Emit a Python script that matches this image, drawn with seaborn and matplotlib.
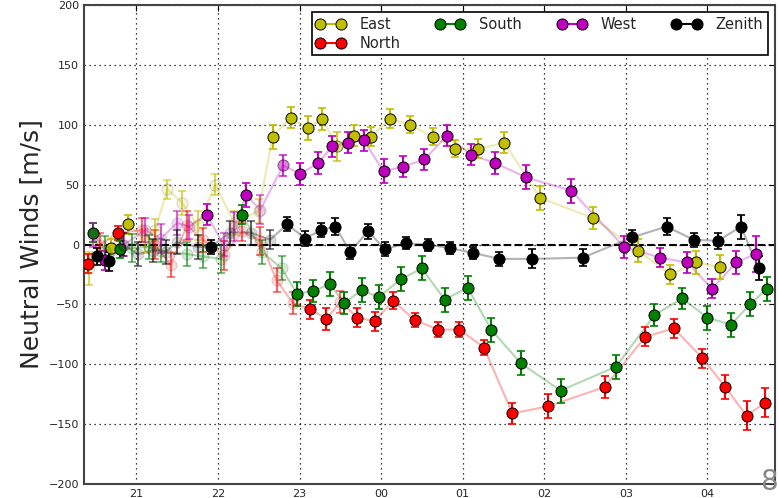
import numpy as np
import pandas as pd
import matplotlib
matplotlib.use("Agg")
import matplotlib.pyplot as plt
import seaborn as sns
from matplotlib.lines import Line2D

# Tid i timer (24 = 00, 25 = 01 osv.), vind i m/s, feil og kvalitet (2 = god, 1 = middels, 0 = daarlig)
east_t = [20.42, 20.69, 20.90, 21.10, 21.23, 21.38, 21.56, 21.75, 21.97, 22.20, 22.50, 22.67, 22.89, 23.10, 23.28,
          23.46, 23.67, 23.88, 24.11, 24.35, 24.64, 24.91, 25.19, 25.51, 25.95, 26.60, 27.15, 27.54, 27.86, 28.16]
east_v = [-20, -3, 17, 3, 12, 46, 35, 16, 50, 18, 28, 90, 106, 97, 105,
          82, 91, 90, 105, 100, 90, 80, 80, 85, 39, 22, -5, -25, -15, -19]
east_err = [14, 8, 8, 10, 9, 8, 10, 12, 9, 10, 10, 10, 9, 10, 9,
            12, 9, 8, 8, 7, 7, 7, 8, 9, 10, 9, 10, 8, 10, 10]
east_q = [0, 2, 2, 0, 0, 0, 0, 0, 0, 0, 0, 2, 2, 2, 2,
          1, 2, 2, 2, 2, 2, 2, 2, 2, 2, 2, 2, 2, 2, 2]

north_t = [20.41, 20.56, 20.77, 21.07, 21.23, 21.42, 21.62, 21.82, 22.07, 22.30, 22.52, 22.72, 22.92, 23.13, 23.33, 23.50,
           23.71, 23.92, 24.15, 24.41, 24.70, 24.96, 25.26, 25.61, 26.05, 26.74, 27.24, 27.59, 27.94, 28.22, 28.48, 28.71]
north_v = [-16, 0, 9.5, 12, 0, -17, 16, 4, -9, 11, 3, -30, -49, -54, -62, -48,
           -61, -64, -47, -63, -71, -71, -86, -141, -135, -119, -77, -70, -95, -119, -143, -132]
north_err = [8, 10, 6, 10, 12, 10, 12, 10, 12, 8, 12, 10, 9, 8, 9, 9,
             8, 8, 7, 6, 6, 6, 6, 9, 10, 9, 8, 8, 8, 10, 12, 12]
north_q = [2, 0, 2, 0, 0, 0, 0, 0, 0, 0, 0, 0, 0, 2, 2, 0,
           2, 2, 2, 2, 2, 2, 2, 2, 2, 2, 2, 2, 2, 2, 2, 2]

south_t = [20.47, 20.62, 20.80, 20.95, 21.15, 21.30, 21.62, 21.82, 22.04, 22.30, 22.54, 22.78, 22.97, 23.17, 23.37, 23.55,
           23.76, 23.97, 24.24, 24.50, 24.78, 25.06, 25.35, 25.71, 26.20, 26.88, 27.35, 27.69, 28.00, 28.29, 28.52, 28.73]
south_v = [10, -5, -4, -3, -2, -5, -8, -10, -12, 25, -6, -20, -41, -39, -33, -49,
           -38, -44, -29, -20, -46, -36, -71, -99, -122, -102, -59, -45, -61, -67, -50, -37]
south_err = [8, 12, 7, 12, 10, 10, 10, 10, 12, 8, 10, 10, 10, 9, 10, 9,
             10, 10, 10, 10, 10, 10, 10, 10, 10, 10, 9, 9, 10, 10, 10, 10]
south_q = [2, 0, 2, 0, 0, 0, 0, 0, 0, 2, 0, 0, 2, 2, 2, 2,
           2, 2, 2, 2, 2, 2, 2, 2, 2, 2, 2, 2, 2, 2, 2, 2]

west_t = [20.47, 20.61, 20.85, 21.11, 21.30, 21.50, 21.65, 21.86, 22.07, 22.20, 22.35, 22.52, 22.80, 23.01, 23.23, 23.40,
          23.60, 23.79, 24.03, 24.27, 24.53, 24.81, 25.10, 25.40, 25.78, 26.33, 26.98, 27.42, 27.75, 28.06, 28.35, 28.59]
west_v = [8, -13, 0, 12, 5, 18, 15, 25, 0, 15, 41, 29, 66, 59, 68, 82,
          85, 87, 61, 65, 71, 91, 75, 68, 56, 45, -2, -11, -15, -37, -15, -8]
west_err = [10, 8, 10, 10, 12, 10, 10, 9, 10, 12, 10, 12, 9, 9, 9, 9,
            9, 9, 10, 9, 9, 9, 9, 9, 10, 10, 9, 8, 9, 8, 10, 15]
west_q = [0, 2, 0, 0, 0, 0, 0, 2, 0, 0, 2, 0, 1, 2, 2, 2,
          2, 2, 2, 2, 2, 2, 2, 2, 2, 2, 2, 2, 2, 2, 2, 2]

zenith_t = [20.52, 20.66, 20.84, 21.02, 21.20, 21.36, 21.50, 21.75, 21.91, 22.15, 22.40, 22.64, 22.85, 23.07, 23.26, 23.44,
            23.62, 23.84, 24.05, 24.30, 24.57, 24.84, 25.13, 25.45, 25.85, 26.47, 27.08, 27.50, 27.83, 28.13, 28.41, 28.63]
zenith_v = [-10, -14, 0, -8, -5, -6, 2, -2, -2, 10, 10, 4, 17, 5, 12, 15,
            -6, 11, -4, 1, 0, -3, -7, -12, -12, -11, 6, 15, 4, 3, 15, -20]
zenith_err = [7, 8, 10, 10, 10, 10, 10, 10, 6, 10, 10, 8, 6, 6, 6, 7,
              6, 6, 6, 5, 5, 5, 5, 6, 8, 7, 6, 7, 6, 7, 10, 10]
zenith_q = [2, 2, 0, 0, 0, 0, 0, 0, 2, 0, 0, 0, 2, 2, 2, 2,
            2, 2, 2, 2, 2, 2, 2, 2, 2, 2, 2, 2, 2, 2, 2, 2]

hour_ticks = [21, 22, 23, 24, 25, 26, 27, 28]
hour_labels = ["21", "22", "23", "00", "01", "02", "03", "04"]

series = [
    ("East", (0.75, 0.75, 0.0), east_t, east_v, east_err, east_q),
    ("North", (1.0, 0.0, 0.0), north_t, north_v, north_err, north_q),
    ("South", (0.0, 0.5, 0.0), south_t, south_v, south_err, south_q),
    ("West", (0.75, 0.0, 0.75), west_t, west_v, west_err, west_q),
    ("Zenith", (0.0, 0.0, 0.0), zenith_t, zenith_v, zenith_err, zenith_q),
]

sns.set_style("white")
plt.rcParams["font.family"] = ["DejaVu Sans"]

fig, ax = plt.subplots(figsize=(7.79, 4.98), dpi=100)
fig.subplots_adjust(left=0.108, right=0.995, bottom=0.028, top=0.990)

marker_alpha = {0: 0.15, 1: 0.5, 2: 1.0}
bar_alpha = {0: 0.6, 1: 0.8, 2: 1.0}

handles = []
for navn, farge, t, v, err, q in series:
    df = pd.DataFrame({"t": t, "v": v, "err": err, "q": q})
    # svak linje gjennom alle punkter
    sns.lineplot(data=df, x="t", y="v", color=farge, alpha=0.3, lw=1.5,
                 estimator=None, sort=False, ax=ax, legend=False, zorder=2)
    for nivaa in [0, 1, 2]:
        sub = df[df["q"] == nivaa]
        if len(sub) == 0:
            continue
        ax.errorbar(sub["t"], sub["v"], yerr=sub["err"], fmt="none", ecolor=farge,
                    alpha=bar_alpha[nivaa], capsize=3, elinewidth=1.5, capthick=1.2, zorder=3)
        sns.scatterplot(data=sub, x="t", y="v", color=farge, edgecolor="k", linewidth=0.7,
                        s=64, alpha=marker_alpha[nivaa], ax=ax, legend=False, zorder=4)
    handles.append(Line2D([0], [0], color=farge, lw=1.5, marker="o", markersize=8,
                          markerfacecolor=farge, markeredgecolor="k", markeredgewidth=0.7, label=navn))

ax.axhline(0, color="k", ls="--", lw=1.5, zorder=1)

ax.set_xlim(20.36, 28.83)
ax.set_ylim(-200, 200)
ax.set_xticks(hour_ticks)
ax.set_xticklabels(hour_labels)
ax.set_yticks(np.arange(-200, 201, 50))
ax.grid(True, color="k", ls=(0, (1, 3)), lw=0.9)
ax.tick_params(direction="in", top=True, right=True, length=4, labelsize=8, color="k")
ax.set_xlabel("")
ax.set_ylabel("Neutral Winds [m/s]", fontsize=18)
for sp in ax.spines.values():
    sp.set_color("#444444")
    sp.set_linewidth(1.5)

leg = ax.legend(handles=handles, loc="upper right", ncol=4, numpoints=2, fontsize=10.5,
                fancybox=False, framealpha=1, edgecolor="k", labelspacing=0.3,
                borderpad=0.3, handletextpad=1.0, columnspacing=2.4)
leg.get_frame().set_linewidth(1.2)

fig.text(0.999, 0.016, "8", color="#888888", fontsize=20, ha="right", va="baseline")

fig.savefig("out.png", dpi=100)
